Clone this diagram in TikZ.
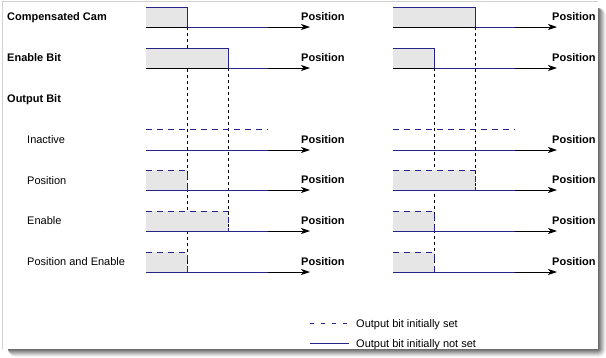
\documentclass[tikz,border=0pt]{standalone}
\usepackage{fontspec}
\setmainfont{Liberation Sans}
\usetikzlibrary{arrows.meta, positioning}
\definecolor{signavy}{HTML}{24248A}
\definecolor{pulsegray}{HTML}{E6E6E6}
\tikzset{
  axisline/.style={black, line width=0.9pt, -{Stealth[length=9pt,width=6pt,inset=2.5pt]}},
  sigline/.style={signavy, line width=1pt},
  setline/.style={signavy, line width=1pt, dash pattern=on 6pt off 5pt},
  guideline/.style={black, line width=0.8pt, dash pattern=on 3pt off 3pt},
  lbl/.style={anchor=west, inner sep=0pt, text height=8pt, text depth=0pt, font=\fontsize{11}{13}\selectfont},
  headlbl/.style={lbl, font=\fontsize{11}{13}\selectfont\bfseries},
}

\begin{document}
\begin{tikzpicture}[x=1pt, y=-1pt]
  \useasboundingbox (0,0) rectangle (606,357);
  % frame and drop shadow
  \foreach \i/\c in {8/5,7/10,6/18,5/26,4/34,3/42,2/50,1/58}
    \fill[black!\c, rounded corners=\i pt] (8,8) rectangle (598+\i,349+\i);
  \fill[white] (0,0) rectangle (598,349);
  \draw[black!18, line width=1pt] (2,349) -- (2,1.5) -- (598,1.5);

  % row labels
  \node[headlbl] (camlbl) at (7,16) {Compensated Cam};
  \node[headlbl] (enalbl) at (7,57) {Enable Bit};
  \node[headlbl] (outlbl) at (7,98) {Output Bit};
  \node[lbl] (inactlbl) at (27,139) {Inactive};
  \node[lbl] (poslbl) at (27,180) {Position};
  \node[lbl] (enablbl) at (27,220) {Enable};
  \node[lbl] (bothlbl) at (27,261) {Position and Enable};

  % two panels: start, cam edge, enable edge, both edge, guide ends, label x
  \foreach \p/\xo/\xc/\xe/\xb/\lc/\le/\lx in {L/146/187/228/187/272/231/301, R/393/475/434/434/190/272/552}
  {
    \draw[guideline] (\xc,27) -- (\xc,\lc);
    \draw[guideline] (\xe,68) -- (\xe,\le);
    % gray areas
    \fill[pulsegray] (\xo,7) rectangle (\xc,27);
    \fill[pulsegray] (\xo,48) rectangle (\xe,68);
    \fill[pulsegray] (\xo,170) rectangle (\xc,190);
    \fill[pulsegray] (\xo,211) rectangle (\xe,231);
    \fill[pulsegray] (\xo,252) rectangle (\xb,272);
    % axes
    \foreach \r/\ya in {1/27,2/68,3/150,4/190,5/231,6/272} {
      \coordinate (ax-\p-\r-a) at (\xo,\ya);
      \coordinate (ax-\p-\r-b) at (\xo+164,\ya);
      \coordinate (sg-\p-\r) at (\xo+122,\ya);
      \draw[axisline] (ax-\p-\r-a) -- (ax-\p-\r-b);
      \node[headlbl] (pos-\p-\r) at (\lx,\ya-11) {Position};
    }
    % signals
    \draw[sigline] (\xo,7) -| (\xc,27) -- (sg-\p-1);
    \draw[sigline] (\xo,48) -| (\xe,68) -- (sg-\p-2);
    \draw[setline] (\xo,129) -- (\xo+122,129);
    \draw[setline] (\xo,170) -| (\xc,190);
    \draw[setline] (\xo,211) -| (\xe,231);
    \draw[setline] (\xo,252) -| (\xb,272);
    \foreach \r in {3,...,6}
      \draw[sigline] (ax-\p-\r-a) -- (sg-\p-\r);
  }

  % legend
  \coordinate (lg-set-a) at (310,323);
  \coordinate (lg-set-b) at (349,323);
  \coordinate (lg-not-a) at (310,343);
  \coordinate (lg-not-b) at (349,343);
  \draw[setline, dash pattern=on 4pt off 7pt] (lg-set-a) -- (lg-set-b);
  \draw[sigline] (lg-not-a) -- (lg-not-b);
  \node[lbl, right=7pt of lg-set-b] (lgset) {Output bit initially set};
  \node[lbl, right=7pt of lg-not-b] (lgnot) {Output bit initially not set};
\end{tikzpicture}
\end{document}
